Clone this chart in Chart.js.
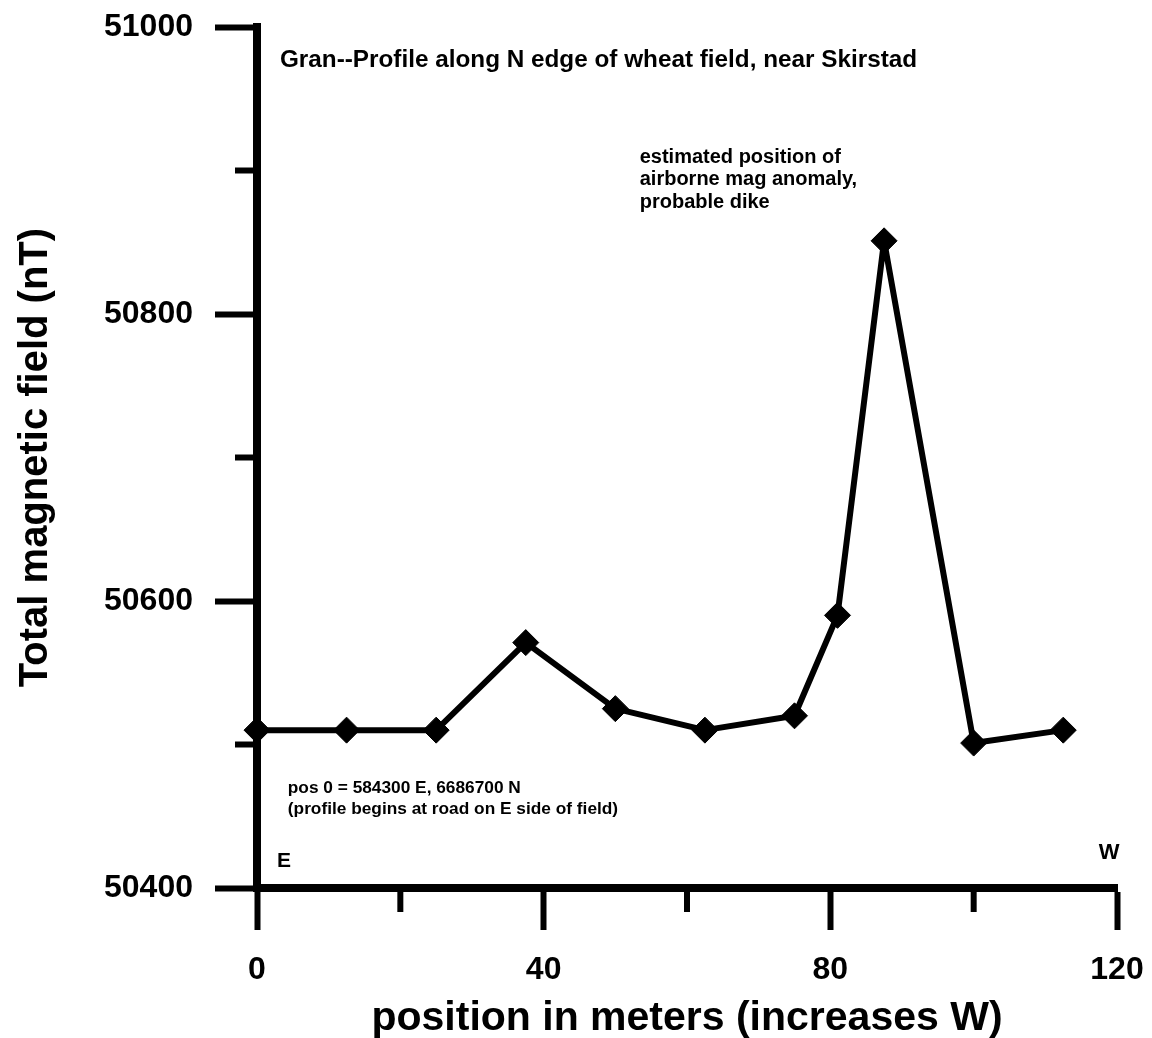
<!DOCTYPE html>
<html>
<head>
<meta charset="utf-8">
<title>Gran magnetic profile</title>
<script src="https://cdn.jsdelivr.net/npm/chart.js@4.4.1/dist/chart.umd.min.js"></script>
<style>
  html, body { margin: 0; padding: 0; background: #ffffff; }
  #wrap { width: 1152px; height: 1038px; }
</style>
</head>
<body>
<div id="wrap"><canvas id="profile" width="1152" height="1038"></canvas></div>
<script>
// Profile stations (m, increasing westward) and total field readings (nT)
const positions   = [0, 12.5, 25, 37.5, 50, 62.5, 75, 81, 87.5, 100, 112.5];
const fieldValues = [50510, 50510, 50510, 50571, 50525, 50510, 50520, 50590, 50851, 50501, 50510];

// Labelled and unlabelled axis ticks
const xTickValues  = [0, 40, 80, 120];
const yTickValues  = [50400, 50600, 50800, 51000];
const xMinorTicks  = [20, 60, 100];
const yMinorTicks  = [50500, 50700, 50900];

const FONT = '"Liberation Sans", Arial, Helvetica, sans-serif';

// Text notes placed in axis units
const notes = [
  { lines: ['Gran--Profile along N edge of wheat field, near Skirstad'], x: 3.2, y: 50977, size: 24.3, gap: 0, align: 'left' },
  { lines: ['estimated position of', 'airborne mag anomaly,', 'probable dike'], x: 53.4, y: 50909.4, size: 20, gap: 16, align: 'left' },
  { lines: ['pos 0 = 584300 E, 6686700 N', '(profile begins at road on E side of field)'], x: 4.3, y: 50469.7, size: 17.3, gap: 14.6, align: 'left' },
  { lines: ['E'], x: 3.77, y: 50418.8, size: 21, gap: 0, align: 'center' },
  { lines: ['W'], x: 118.9, y: 50424.4, size: 22, gap: 0, align: 'center' }
];

const decorations = {
  id: 'decorations',
  afterDraw(chart) {
    const { ctx, chartArea, scales } = chart;
    const xs = scales.x, ys = scales.y;
    ctx.save();
    ctx.strokeStyle = '#000';
    ctx.lineWidth = 6;
    ctx.lineCap = 'butt';
    // short unlabelled ticks
    xMinorTicks.forEach(v => {
      const px = xs.getPixelForValue(v);
      ctx.beginPath();
      ctx.moveTo(px, chartArea.bottom);
      ctx.lineTo(px, chartArea.bottom + 24);
      ctx.stroke();
    });
    yMinorTicks.forEach(v => {
      const py = ys.getPixelForValue(v);
      ctx.beginPath();
      ctx.moveTo(chartArea.left, py);
      ctx.lineTo(chartArea.left - 22, py);
      ctx.stroke();
    });
    // notes
    ctx.fillStyle = '#000';
    ctx.textBaseline = 'middle';
    notes.forEach(n => {
      ctx.font = 'bold ' + n.size + 'px ' + FONT;
      ctx.textAlign = n.align;
      const px = xs.getPixelForValue(n.x);
      n.lines.forEach((t, i) => {
        const py = ys.getPixelForValue(n.y - i * n.gap);
        ctx.fillText(t, px, py);
      });
    });
    ctx.restore();
  }
};

// keep the plot frame fixed: no extra room reserved for edge labels
const fixFrame = (size) => (s) => {
  if (s.isHorizontal()) { s.height = size; } else { s.width = size; }
  s.paddingTop = 0; s.paddingBottom = 0; s.paddingLeft = 0; s.paddingRight = 0;
};

new Chart(document.getElementById('profile'), {
  type: 'scatter',
  data: {
    datasets: [{
      data: positions.map((p, i) => ({ x: p, y: fieldValues[i] })),
      showLine: true,
      borderColor: '#000',
      borderWidth: 6,
      borderJoinStyle: 'round',
      tension: 0,
      pointStyle: 'rectRot',
      pointRadius: 13,
      pointHoverRadius: 13,
      pointBackgroundColor: '#000',
      pointBorderColor: '#000',
      pointBorderWidth: 1,
      clip: false
    }]
  },
  options: {
    responsive: false,
    animation: false,
    devicePixelRatio: 1,
    layout: { padding: { left: 0, top: 27, right: 35, bottom: 0 } },
    plugins: { legend: { display: false }, tooltip: { enabled: false } },
    scales: {
      x: {
        type: 'linear',
        position: 'bottom',
        min: 0, max: 120,
        afterBuildTicks: s => { s.ticks = xTickValues.map(v => ({ value: v })); },
        afterFit: fixFrame(150),
        ticks: { color: '#000', font: { family: FONT, size: 32, weight: 'bold' }, padding: 21, maxRotation: 0 },
        grid: { drawOnChartArea: false, drawTicks: true, tickLength: 42, tickWidth: 6, tickColor: '#000' },
        border: { display: true, width: 8, color: '#000' },
        title: { display: true, text: 'position in meters (increases W)', color: '#000',
                 font: { family: FONT, size: 41, weight: 'bold' }, padding: { top: 0, bottom: -5 } }
      },
      y: {
        type: 'linear',
        position: 'left',
        min: 50400, max: 51000,
        afterBuildTicks: s => { s.ticks = yTickValues.map(v => ({ value: v })); },
        afterFit: fixFrame(257),
        ticks: { color: '#000', font: { family: FONT, size: 32, weight: 'bold' }, padding: 22,
                 callback: v => String(v) },
        grid: { drawOnChartArea: false, drawTicks: true, tickLength: 42, tickWidth: 6, tickColor: '#000' },
        border: { display: true, width: 8, color: '#000' },
        title: { display: true, text: 'Total magnetic field (nT)', color: '#000',
                 font: { family: FONT, size: 40, weight: 'bold' }, padding: { top: 12, bottom: 0 } }
      }
    }
  },
  plugins: [decorations]
});
</script>
</body>
</html>
